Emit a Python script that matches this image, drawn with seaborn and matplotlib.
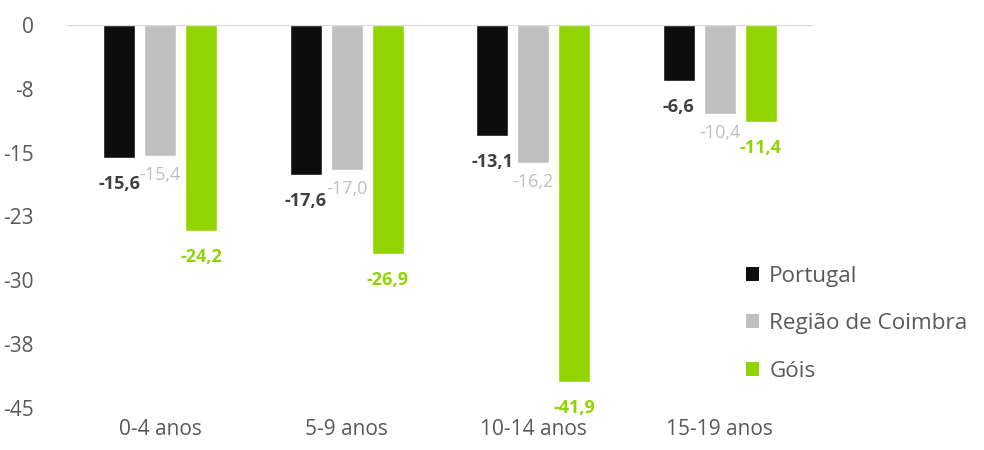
import matplotlib
matplotlib.use("Agg")
import matplotlib.pyplot as plt
import seaborn as sns
import pandas as pd
from matplotlib.patches import Patch

categories = ["0-4 anos", "5-9 anos", "10-14 anos", "15-19 anos"]
series = ["Portugal", "Região de Coimbra", "Góis"]
portugal = [-15.6, -17.6, -13.1, -6.6]
coimbra = [-15.4, -17.0, -16.2, -10.4]
gois = [-24.2, -26.9, -41.9, -11.4]
ytick_values = [0, -7.5, -15, -22.5, -30, -37.5, -45]
ytick_labels = ["0", "-8", "-15", "-23", "-30", "-38", "-45"]

colors = ["#0d0d0d", "#bfbfbf", "#92d400"]
label_colors = ["#404040", "#bfbfbf", "#92d400"]
label_weights = ["bold", "normal", "bold"]
label_offsets = [26, 19, 26]  # px below bar end

rows = []
for s, vals in zip(series, [portugal, coimbra, gois]):
    for c, v in zip(categories, vals):
        rows.append({"cat": c, "serie": s, "val": v})
df = pd.DataFrame(rows)

sns.set_theme(style="white")
plt.rcParams["font.family"] = ["Open Sans", "DejaVu Sans"]

fig = plt.figure(figsize=(9.84, 4.5), dpi=100)
ax = fig.add_axes([67/984, 1-408/450, (813-67)/984, (408-25)/450])

sns.barplot(data=df, x="cat", y="val", hue="serie", order=categories,
            hue_order=series, palette=colors, width=0.66, gap=0.22,
            saturation=1, ax=ax, legend=False, errorbar=None)

ax.set_xlim(-0.5, 3.5)
ax.set_ylim(-45, 0)
ax.set_yticks(ytick_values)
ax.set_yticklabels(ytick_labels)
ax.set_xlabel("")
ax.set_ylabel("")
for sp in ax.spines.values():
    sp.set_visible(False)
ax.axhline(0, color="#d9d9d9", lw=1.5, zorder=5)
ax.tick_params(axis="both", length=0, labelsize=15, labelcolor="#595959")
ax.tick_params(axis="y", pad=24)
ax.tick_params(axis="x", pad=8)

for i, cont in enumerate(ax.containers):
    for bar, v in zip(cont, [portugal, coimbra, gois][i]):
        x = bar.get_x() + bar.get_width()/2
        ax.annotate(f"{v:.1f}".replace(".", ","), (x, v), xytext=(0, -label_offsets[i]*0.72),
                    textcoords="offset points", ha="center", va="center",
                    fontsize=13, color=label_colors[i], fontweight=label_weights[i])

handles = [Patch(facecolor=c, edgecolor="none") for c in colors]
leg = fig.legend(handles, series, loc="upper left", bbox_to_anchor=(746/984, 1-266/450),
                 frameon=False, fontsize=16.2, handlelength=0.58, handleheight=0.58,
                 handletextpad=0.45, labelspacing=1.17, borderaxespad=0, borderpad=0)
for t in leg.get_texts():
    t.set_color("#595959")

fig.savefig("out.png", dpi=100)
